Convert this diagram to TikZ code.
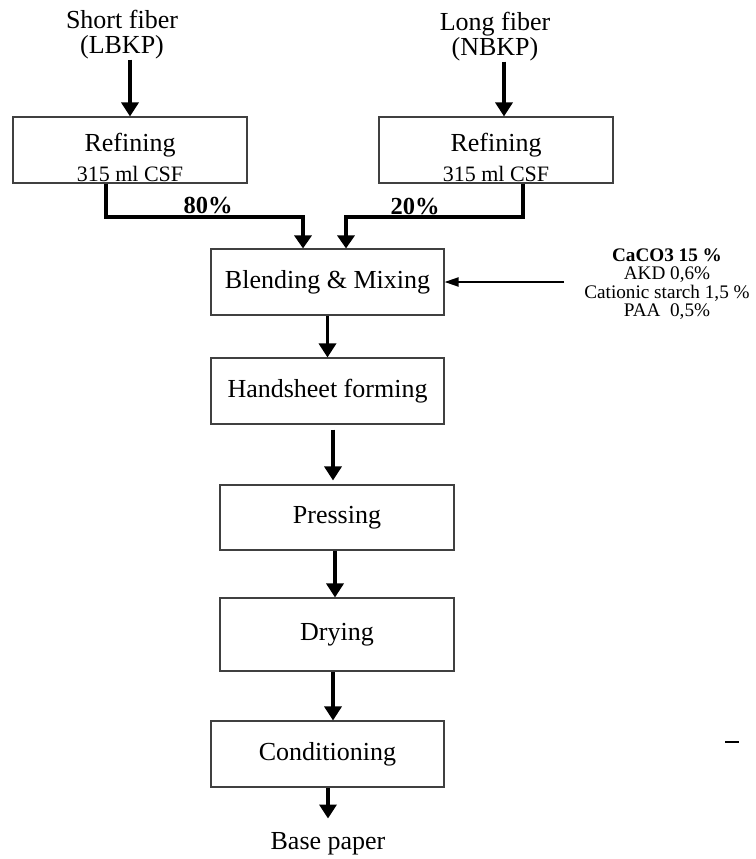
\documentclass[tikz,border=0pt]{standalone}
\usepackage{fontspec}
\setmainfont{Liberation Serif}
\usetikzlibrary{arrows.meta,calc}
\tikzset{
  box/.style={draw=black!75, line width=1.1pt, minimum width=234pt, minimum height=66pt, inner sep=0pt},
  big/.style={font=\fontsize{26}{25}\selectfont},
  small/.style={font=\fontsize{22}{24}\selectfont},
  arr/.style={line width=3.4pt, -{Triangle[width=17pt,length=14pt]}},
  conn/.style={line width=3.3pt, -{Triangle[width=17pt,length=13pt]}},
  thinarr/.style={line width=2pt, -{Triangle[width=9pt,length=14pt]}},
  pct/.style={font=\fontsize{24.5}{26}\selectfont\bfseries, inner sep=0pt},
}
\begin{document}
\begin{tikzpicture}[x=1pt,y=-1pt]
\useasboundingbox (0,0) rectangle (755,859);
% headers
\node[big, align=center, inner sep=0pt] (sf) at (122,35) {Short fiber\\(LBKP)};
\node[big, align=center, inner sep=0pt] (lf) at (495,37) {Long fiber\\(NBKP)};
% refining boxes
\node[box] (r1) at (130,150) {};
\node[big, inner sep=0pt] (r1a) at (130,145) {Refining};
\node[small, inner sep=0pt] (r1b) at (130,174) {315 ml CSF};
\node[box] (r2) at (496,150) {};
\node[big, inner sep=0pt] (r2a) at (496,145) {Refining};
\node[small, inner sep=0pt] (r2b) at (496,174) {315 ml CSF};
% process boxes
\node[box, minimum width=233pt, big] (blend) at (327.5,282) {Blending \& Mixing};
\node[box, minimum width=233pt, big] (hand) at (327.5,391) {Handsheet forming};
\node[box, minimum height=65pt, big] (press) at (337,517.5) {Pressing};
\node[box, minimum height=73pt, big] (dry) at (337,634.5) {Drying};
\node[box, minimum width=233pt, big] (cond) at (327.5,754) {Conditioning};
\node[big, inner sep=0pt] (bp) at (328,844) {Base paper};
% additives
\node[align=center, inner sep=0pt, font=\fontsize{19.2}{18.6}\selectfont] (add) at (667,284)
  {\textbf{CaCO3 15 \%}\\AKD 0,6\%\\Cationic starch 1,5 \%\\PAA\ \ 0,5\%};
% percentages
\node[pct] (p80) at (208,206) {80\%};
\node[pct] (p20) at (415,207) {20\%};
% junction coordinates
\coordinate (j1) at (303,217);
\coordinate (j2) at (346,217);
\coordinate (aw) at ([xshift=-20pt]add.west);
% arrows
\draw[arr] (sf.south -| r1.north) -- (r1.north);
\draw[arr] (lf.south -| 504,0) -- (r2.north -| 504,0);
\draw[conn] ([xshift=-24pt]r1.south) |- (j1) -- (j1 |- blend.north);
\draw[conn] ([xshift=27pt]r2.south) |- (j2) -- (j2 |- blend.north);
\draw[thinarr] (aw |- blend.east) -- (blend.east);
\draw[arr] (blend.south) -- (hand.north);
\draw[arr] ([xshift=5.5pt,yshift=-5pt]hand.south) -- ([xshift=-4pt,yshift=4pt]press.north);
\draw[arr] ([xshift=-2pt]press.south) -- ([xshift=-2pt]dry.north);
\draw[arr] ([xshift=-4pt]dry.south) -- ([xshift=5.5pt]cond.north);
\draw[arr] ([xshift=0.5pt]cond.south) -- ([yshift=14pt]bp.north);
% stray mark
\coordinate (d1) at (725,742);
\coordinate (d2) at (739,742);
\draw[line width=1.5pt] (d1) -- (d2);
\end{tikzpicture}
\end{document}
